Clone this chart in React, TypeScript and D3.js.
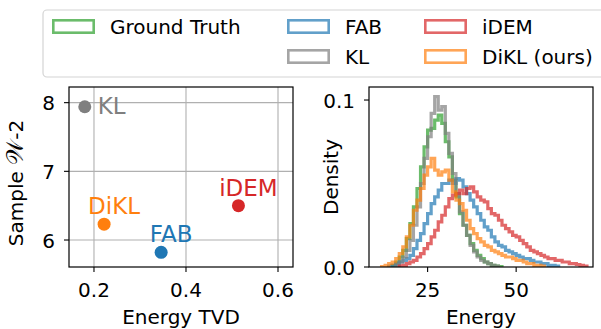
import * as d3 from 'd3'

// Scatter: energy TVD vs sample W-2
const methods = ['KL', 'DiKL', 'FAB', 'iDEM']
const energyTVD = [0.18, 0.222, 0.346, 0.514]
const sampleW2 = [7.94, 6.23, 5.82, 6.5]

// Histograms (density per 1-unit energy bin)
const gtStart = 15
const gtDensity = [0.001, 0.003, 0.006, 0.01, 0.017, 0.026, 0.036, 0.047, 0.06, 0.072, 0.082, 0.083, 0.088, 0.091, 0.086, 0.075, 0.066, 0.052, 0.042, 0.032, 0.025, 0.019, 0.014, 0.01, 0.007, 0.005, 0.003, 0.002, 0.001, 0.0005, 0.0003]
const fabStart = 14
const fabDensity = [0.0005, 0.001, 0.002, 0.003, 0.004, 0.005, 0.007, 0.011, 0.016, 0.02, 0.026, 0.032, 0.038, 0.042, 0.046, 0.05, 0.05, 0.052, 0.05, 0.053, 0.052, 0.048, 0.044, 0.04, 0.036, 0.032, 0.028, 0.024, 0.022, 0.018, 0.015, 0.013, 0.012, 0.01, 0.009, 0.008, 0.007, 0.006, 0.005, 0.005, 0.004, 0.003, 0.003, 0.002, 0.002, 0.001, 0.001, 0.0005]
const klStart = 16
const klDensity = [0.001, 0.003, 0.006, 0.01, 0.016, 0.025, 0.036, 0.05, 0.065, 0.078, 0.092, 0.102, 0.094, 0.096, 0.08, 0.068, 0.056, 0.044, 0.033, 0.025, 0.019, 0.013, 0.009, 0.006, 0.004, 0.003, 0.002, 0.001, 0.0005]
const idemStart = 17
const idemDensity = [0.0005, 0.001, 0.002, 0.003, 0.004, 0.006, 0.008, 0.011, 0.014, 0.018, 0.022, 0.027, 0.031, 0.036, 0.041, 0.043, 0.044, 0.046, 0.044, 0.047, 0.048, 0.045, 0.042, 0.04, 0.039, 0.035, 0.032, 0.031, 0.028, 0.025, 0.023, 0.021, 0.019, 0.018, 0.016, 0.014, 0.012, 0.01, 0.009, 0.008, 0.007, 0.006, 0.005, 0.005, 0.004, 0.004, 0.003, 0.003, 0.002, 0.002, 0.0015, 0.001, 0.0005]
const diklStart = 12
const diklDensity = [0.0003, 0.001, 0.002, 0.003, 0.005, 0.008, 0.012, 0.018, 0.025, 0.034, 0.04, 0.047, 0.055, 0.06, 0.065, 0.058, 0.055, 0.057, 0.058, 0.052, 0.045, 0.04, 0.038, 0.034, 0.028, 0.023, 0.02, 0.017, 0.015, 0.013, 0.012, 0.01, 0.009, 0.008, 0.007, 0.006, 0.006, 0.005, 0.004, 0.004, 0.003, 0.002, 0.002, 0.001, 0.001, 0.0005]

const leftXTicks = [0.2, 0.4, 0.6]
const leftYTicks = [6, 7, 8]
const rightXTicks = [25, 50]
const rightYTicks = [0.0, 0.1]

const colors: Record<string, string> = {
  'Ground Truth': '#2ca02c',
  FAB: '#1f77b4',
  KL: '#7f7f7f',
  iDEM: '#d62728',
  'DiKL (ours)': '#ff7f0e',
  DiKL: '#ff7f0e',
}

const font = 'DejaVu Sans, sans-serif'

const App = () => {
  const top = 87
  const bottom = 267
  const lx = d3.scaleLinear().domain([0.1457, 0.6326]).range([69, 293])
  const ly = d3.scaleLinear().domain([5.607, 8.228]).range([bottom, top])
  const rx = d3.scaleLinear().domain([8.45, 71.7]).range([369, 593])
  const ry = d3.scaleLinear().domain([0, 0.1078]).range([bottom, top])

  const series = [
    { name: 'Ground Truth', start: gtStart, values: gtDensity },
    { name: 'FAB', start: fabStart, values: fabDensity },
    { name: 'KL', start: klStart, values: klDensity },
    { name: 'iDEM', start: idemStart, values: idemDensity },
    { name: 'DiKL (ours)', start: diklStart, values: diklDensity },
  ]

  const line = d3
    .line<[number, number]>()
    .x(d => rx(d[0]))
    .y(d => ry(d[1]))

  const stepPath = (start: number, values: number[]) => {
    const pts: [number, number][] = [[start, 0]]
    values.forEach((v, i) => {
      pts.push([start + i, v])
      pts.push([start + i + 1, v])
    })
    pts.push([start + values.length, 0])
    return line(pts) || ''
  }

  // Legend layout (column-major, 3 columns, blank slot after Ground Truth)
  const legendSlots = [
    { name: 'Ground Truth', col: 0, row: 0 },
    { name: 'FAB', col: 1, row: 0 },
    { name: 'KL', col: 1, row: 1 },
    { name: 'iDEM', col: 2, row: 0 },
    { name: 'DiKL (ours)', col: 2, row: 1 },
  ]
  const colX = [52, 287, 424]

  return (
    <svg
      width={601}
      height={329}
      style={{ position: 'absolute', left: 0, top: 0, background: '#fff' }}
      fontFamily={font}
    >
      <defs>
        <clipPath id="rclip">
          <rect x={369} y={top} width={224} height={bottom - top} />
        </clipPath>
      </defs>

      {/* Legend */}
      <rect x={43} y={10} width={580} height={67} rx={4} fill="#fff" stroke="#d4d4d4" strokeWidth={1.2} />
      {legendSlots.map(s => (
        <g key={s.name} transform={`translate(${colX[s.col]},${19 + s.row * 30})`}>
          <rect x={1.3} y={1.3} width={40.4} height={12.4} fill="none" stroke={colors[s.name]} strokeOpacity={0.7} strokeWidth={2.6} />
          <text x={58} y={15} fontSize={20} fill="#000">{s.name}</text>
        </g>
      ))}

      {/* Left panel: grid */}
      {leftXTicks.map(t => (
        <line key={'gx' + t} x1={lx(t)} x2={lx(t)} y1={top} y2={bottom} stroke="#b0b0b0" strokeWidth={1.1} />
      ))}
      {leftYTicks.map(t => (
        <line key={'gy' + t} x1={69} x2={293} y1={ly(t)} y2={ly(t)} stroke="#b0b0b0" strokeWidth={1.1} />
      ))}

      {/* Scatter points */}
      {methods.map((m, i) => (
        <g key={m}>
          <circle cx={lx(energyTVD[i])} cy={ly(sampleW2[i])} r={6.5} fill={colors[m]} />
          {m === 'KL' ? (
            <text x={lx(energyTVD[i]) + 13} y={ly(sampleW2[i]) + 7} fontSize={23} fill={colors[m]}>{m}</text>
          ) : (
            <text x={lx(energyTVD[i]) + 10} y={ly(sampleW2[i]) - 10} fontSize={23} fill={colors[m]} textAnchor="middle">{m}</text>
          )}
        </g>
      ))}

      {/* Left frame and ticks */}
      <rect x={69} y={top} width={224} height={bottom - top} fill="none" stroke="#000" strokeWidth={1.2} />
      {leftXTicks.map(t => (
        <g key={'lxt' + t}>
          <line x1={lx(t)} x2={lx(t)} y1={bottom} y2={bottom + 5} stroke="#000" strokeWidth={1.1} />
          <text x={lx(t)} y={297} fontSize={20} textAnchor="middle">{t.toFixed(1)}</text>
        </g>
      ))}
      {leftYTicks.map(t => (
        <g key={'lyt' + t}>
          <line x1={64} x2={69} y1={ly(t)} y2={ly(t)} stroke="#000" strokeWidth={1.1} />
          <text x={55} y={ly(t) + 7.5} fontSize={20} textAnchor="end">{t}</text>
        </g>
      ))}
      <text x={181} y={324} fontSize={20} textAnchor="middle">Energy TVD</text>
      <text transform={`translate(23,${(top + bottom) / 2 + 6}) rotate(-90)`} fontSize={20} textAnchor="middle">
        Sample <tspan fontSize={24}>𝒲</tspan>-2
      </text>

      {/* Right panel: histograms */}
      <g clipPath="url(#rclip)">
        {series.map(s => (
          <path
            key={s.name}
            d={stepPath(s.start, s.values)}
            fill="none"
            stroke={colors[s.name]}
            strokeOpacity={0.7}
            strokeWidth={3.2}
            strokeLinejoin="miter"
          />
        ))}
      </g>
      <rect x={369} y={top} width={224} height={bottom - top} fill="none" stroke="#000" strokeWidth={1.2} />
      {rightXTicks.map(t => (
        <g key={'rxt' + t}>
          <line x1={rx(t)} x2={rx(t)} y1={bottom} y2={bottom + 5} stroke="#000" strokeWidth={1.1} />
          <text x={rx(t)} y={297} fontSize={20} textAnchor="middle">{t}</text>
        </g>
      ))}
      {rightYTicks.map(t => (
        <g key={'ryt' + t}>
          <line x1={364} x2={369} y1={ry(t)} y2={ry(t)} stroke="#000" strokeWidth={1.1} />
          <text x={355} y={ry(t) + 7.5} fontSize={20} textAnchor="end">{t.toFixed(1)}</text>
        </g>
      ))}
      <text x={481} y={324} fontSize={20} textAnchor="middle">Energy</text>
      <text transform={`translate(338,${(top + bottom) / 2}) rotate(-90)`} fontSize={20} textAnchor="middle">
        Density
      </text>
    </svg>
  )
}

export default App
